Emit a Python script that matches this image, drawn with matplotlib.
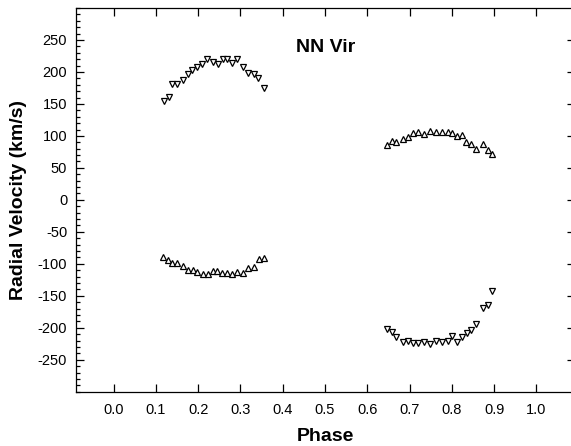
import matplotlib
matplotlib.use("Agg")
import matplotlib.pyplot as plt
from matplotlib.ticker import MultipleLocator

plt.rcParams['font.family'] = ['Liberation Sans', 'DejaVu Sans']
plt.rcParams['axes.unicode_minus'] = False

# primary, first half (downward triangles)
phase_a = [0.119, 0.131, 0.139, 0.149, 0.165, 0.176, 0.186, 0.198, 0.210, 0.222, 0.236,
           0.247, 0.259, 0.269, 0.281, 0.291, 0.307, 0.318, 0.331, 0.342, 0.355]
vel_a = [154, 161, 181, 181, 187, 197, 203, 207, 213, 220, 216,
         213, 220, 220, 214, 221, 208, 199, 197, 191, 175]

# secondary, first half (upward triangles)
phase_b = [0.116, 0.128, 0.139, 0.150, 0.164, 0.175, 0.187, 0.198, 0.212, 0.224, 0.235,
           0.245, 0.257, 0.269, 0.281, 0.291, 0.307, 0.319, 0.331, 0.343, 0.356]
vel_b = [-90, -94, -98, -99, -104, -110, -109, -113, -116, -116, -112,
         -111, -115, -114, -116, -113, -114, -107, -105, -93, -91]

# primary, second half (upward triangles)
phase_c = [0.647, 0.658, 0.668, 0.684, 0.696, 0.708, 0.720, 0.734, 0.749, 0.763, 0.777,
           0.790, 0.801, 0.811, 0.823, 0.834, 0.846, 0.858, 0.874, 0.886, 0.896]
vel_c = [85, 92, 90, 95, 99, 104, 106, 103, 107, 106, 106,
         106, 104, 100, 102, 90, 88, 80, 87, 78, 71]

# secondary, second half (downward triangles)
phase_d = [0.647, 0.658, 0.668, 0.684, 0.696, 0.708, 0.720, 0.734, 0.749, 0.763, 0.777,
           0.790, 0.801, 0.811, 0.824, 0.836, 0.846, 0.858, 0.874, 0.886, 0.896]
vel_d = [-202, -207, -215, -223, -221, -224, -224, -222, -225, -221, -223,
         -221, -213, -223, -214, -208, -204, -194, -169, -164, -142]

fig = plt.figure(figsize=(5.71, 4.46), dpi=100)
ax = fig.add_axes([75.5 / 571, 54.3 / 446, 499 / 571, 383.7 / 446])

mk = dict(linestyle='none', markersize=5, markerfacecolor='white',
          markeredgecolor='black', markeredgewidth=0.9)
ax.plot(phase_a, vel_a, marker='v', **mk)
ax.plot(phase_b, vel_b, marker='^', **mk)
ax.plot(phase_c, vel_c, marker='^', **mk)
ax.plot(phase_d, vel_d, marker='v', **mk)

ax.text(0.502, 239, "NN Vir", fontsize=14, fontweight='bold', ha='center', va='center')

ax.set_xlim(-0.09, 1.09)
ax.set_ylim(-300, 300)
ax.set_xticks([i / 10 for i in range(11)])
ax.set_xticklabels([f"{i / 10:.1f}" for i in range(11)])
ax.set_yticks(range(-250, 251, 50))
ax.yaxis.set_minor_locator(MultipleLocator(10))

ax.tick_params(axis='both', which='both', direction='in', top=True, right=True,
               labelsize=10.5, width=0.9)
ax.tick_params(axis='both', which='major', length=6)
ax.tick_params(axis='y', which='minor', length=3)
ax.tick_params(axis='x', pad=8)
ax.tick_params(axis='y', pad=6)
for s in ax.spines.values():
    s.set_linewidth(0.9)

ax.set_xlabel("Phase", fontsize=14, fontweight='bold', labelpad=8)
ax.set_ylabel("Radial Velocity (km/s)", fontsize=14, fontweight='bold', labelpad=8)

fig.savefig("out.png", dpi=100)
